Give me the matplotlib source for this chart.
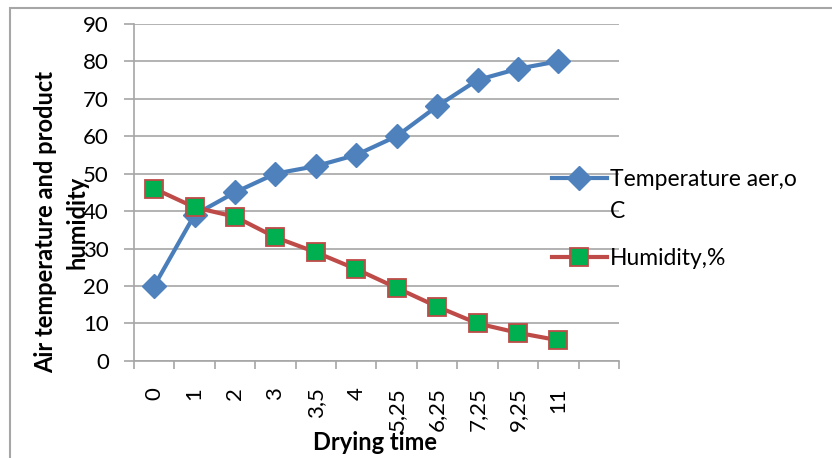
import matplotlib.pyplot as plt
import numpy as np
from matplotlib.ticker import MultipleLocator

plt.rcParams['font.family'] = ['Lato', 'DejaVu Sans']

tempo = ['0', '1', '2', '3', '3,5', '4', '5,25', '6,25', '7,25', '9,25', '11', '']
temperatura = [20, 39, 45, 50, 52, 55, 60, 68, 75, 78, 80]
umidade = [46, 41, 38.5, 33, 29, 24.5, 19.5, 14.5, 10, 7.5, 5.5]

cinza = '#a6a6a6'

fig = plt.figure(figsize=(8.32, 4.58), dpi=100)
ax = fig.add_axes([0.161, 0.212, 0.583, 0.736])

x = np.arange(len(temperatura))
ax.plot(x, temperatura, color='#4a7ebb', lw=3, marker='D', ms=12,
        mfc='#4f81bd', mec='#4f81bd', label='Temperature aer,o', zorder=3)
ax.plot(x, umidade, color='#be4b48', lw=3, marker='s', ms=12.5,
        mfc='#00b050', mec='#be4b48', mew=1.3, label='Humidity,%', zorder=3)

ax.set_xlim(-0.5, len(tempo) - 0.5)
ax.set_ylim(0, 90)
ax.yaxis.set_major_locator(MultipleLocator(10))
ax.grid(axis='y', color=cinza, lw=1.2)
ax.set_axisbelow(True)

ax.set_xticks(np.arange(len(tempo)))
ax.set_xticklabels(tempo, rotation=90, fontsize=16)
ax.set_xticks(np.arange(len(tempo) + 1) - 0.5, minor=True)
ax.tick_params(axis='x', which='major', length=0, pad=19)
ax.tick_params(axis='x', which='minor', length=6, color=cinza, width=1.2)
ax.tick_params(axis='y', length=7, color=cinza, width=1.2, labelsize=16, pad=11)

for s in ['top', 'right']:
    ax.spines[s].set_visible(False)
for s in ['left', 'bottom']:
    ax.spines[s].set_color(cinza)
    ax.spines[s].set_linewidth(1.2)

fig.text(0.074, 0.515, 'Air temperature and product\nhumidity', rotation=90,
         ha='center', va='center', fontsize=17, fontweight='bold', linespacing=1.45)
fig.text(0.451, 0.033, 'Drying time', ha='center', va='center',
         fontsize=17, fontweight='bold')

leg = ax.legend(loc='upper left', bbox_to_anchor=(0.652, 0.65), bbox_transform=fig.transFigure,
                frameon=False, fontsize=16.5, handlelength=2.4, handletextpad=0.15,
                labelspacing=2.5, borderaxespad=0)
fig.text(0.733, 0.539, 'C', ha='left', va='center', fontsize=16.5)

# moldura externa
fig.patches.append(plt.Rectangle((0.012, -0.1), 1.1, 1.083, transform=fig.transFigure,
                                 fill=False, edgecolor='#a6a6a6', lw=1.5))

fig.savefig('out.png', dpi=100)
